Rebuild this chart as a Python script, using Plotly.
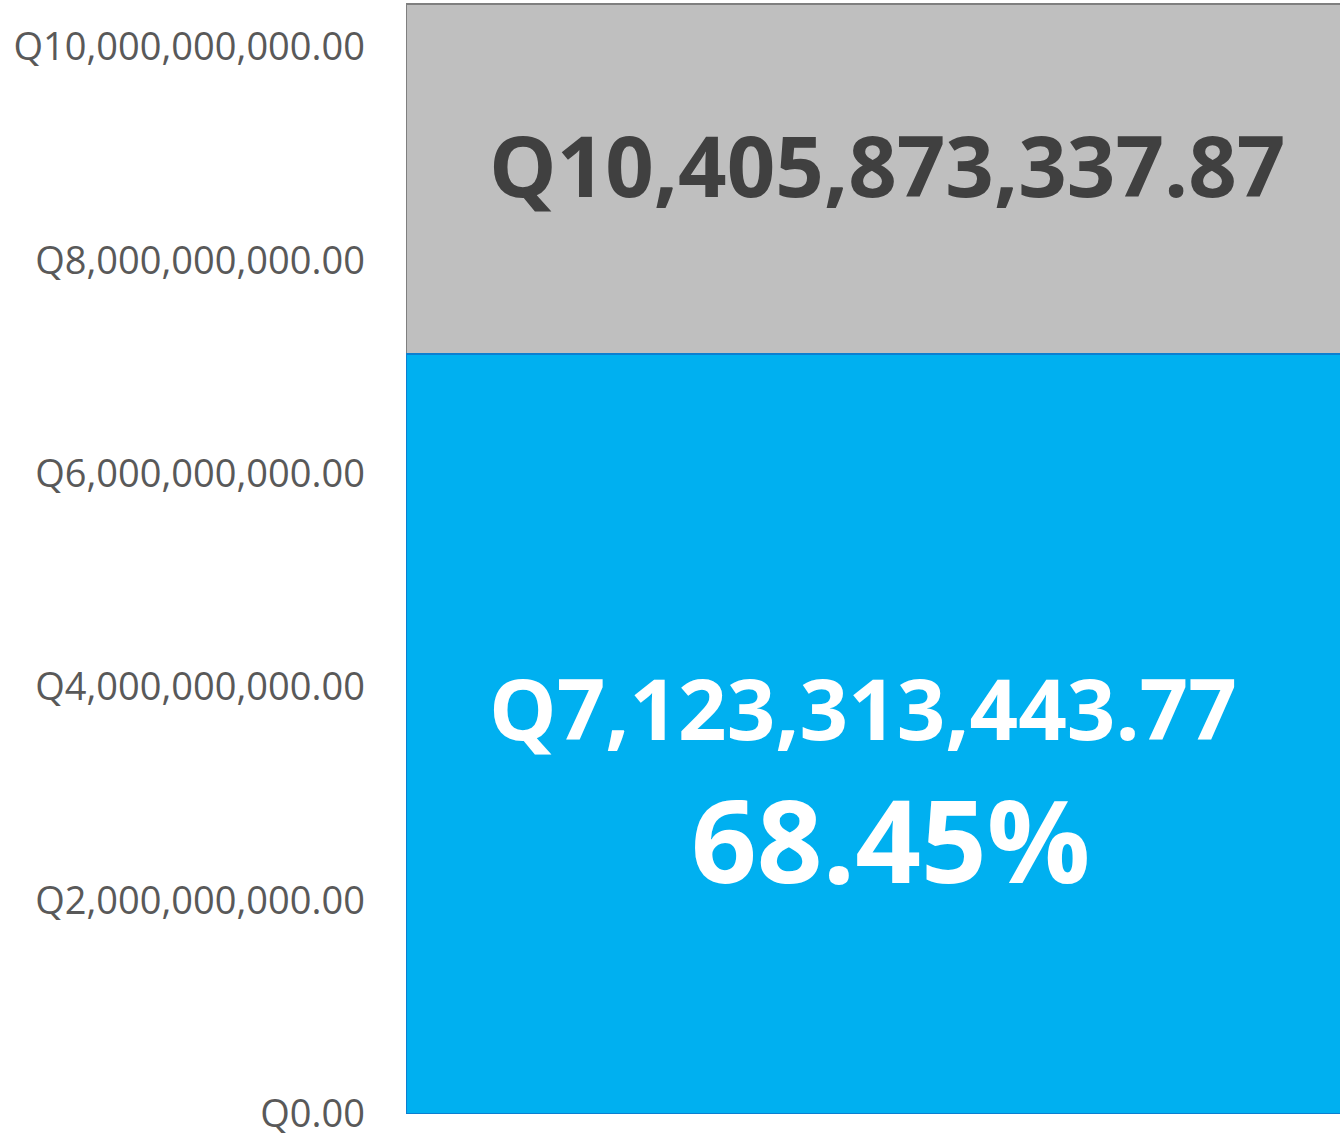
import plotly.graph_objects as go

# Data
categories = ["Total"]
total_values = [10405873337.87]
part_values = [7123313443.77]
part_pct = [68.45]
tick_values = [0, 2e9, 4e9, 6e9, 8e9, 10e9]
tick_labels = ["Q{:,.2f}".format(v) for v in tick_values]

FONT = "Open Sans"

fig = go.Figure()
fig.add_trace(go.Bar(
    x=[0], y=total_values, width=[1],
    marker=dict(color="#bfbfbf", line=dict(color="#7f7f7f", width=2)),
    hoverinfo="skip", showlegend=False,
))
fig.add_trace(go.Bar(
    x=[0], y=part_values, width=[1],
    marker=dict(color="#00b0f0", line=dict(color="#0b7fd1", width=2)),
    hoverinfo="skip", showlegend=False,
))

fig.add_annotation(
    xref="paper", yref="paper", x=0.515, y=0.853,
    text="Q{:,.2f}".format(total_values[0]), showarrow=False,
    xanchor="center", yanchor="middle",
    font=dict(family=FONT, size=85, color="#404040", weight="bold"),
)
fig.add_annotation(
    xref="paper", yref="paper", x=0.489, y=0.3653,
    text="Q{:,.2f}".format(part_values[0]), showarrow=False,
    xanchor="center", yanchor="middle",
    font=dict(family=FONT, size=85, color="white", weight="bold"),
)
fig.add_annotation(
    xref="paper", yref="paper", x=0.519, y=0.2471,
    text="{:.2f}%".format(part_pct[0]), showarrow=False,
    xanchor="center", yanchor="middle",
    font=dict(family=FONT, size=115, color="white", weight="bold"),
)

fig.update_layout(
    width=1340, height=1135,
    margin=dict(l=406, r=0, t=0, b=21),
    barmode="overlay",
    bargap=0,
    plot_bgcolor="white",
    paper_bgcolor="white",
    xaxis=dict(range=[-0.5, 0.42], showticklabels=False, showgrid=False,
               zeroline=False, showline=False, fixedrange=True),
    yaxis=dict(range=[-2e6, 10.44e9], tickmode="array",
               tickvals=tick_values, ticktext=tick_labels,
               showgrid=False, zeroline=False, showline=False, ticks="",
               ticklabelstandoff=40, automargin=False,
               ticklabeloverflow="allow",
               tickfont=dict(family=FONT, size=38, color="#595959")),
)

fig.write_html("out.html")
